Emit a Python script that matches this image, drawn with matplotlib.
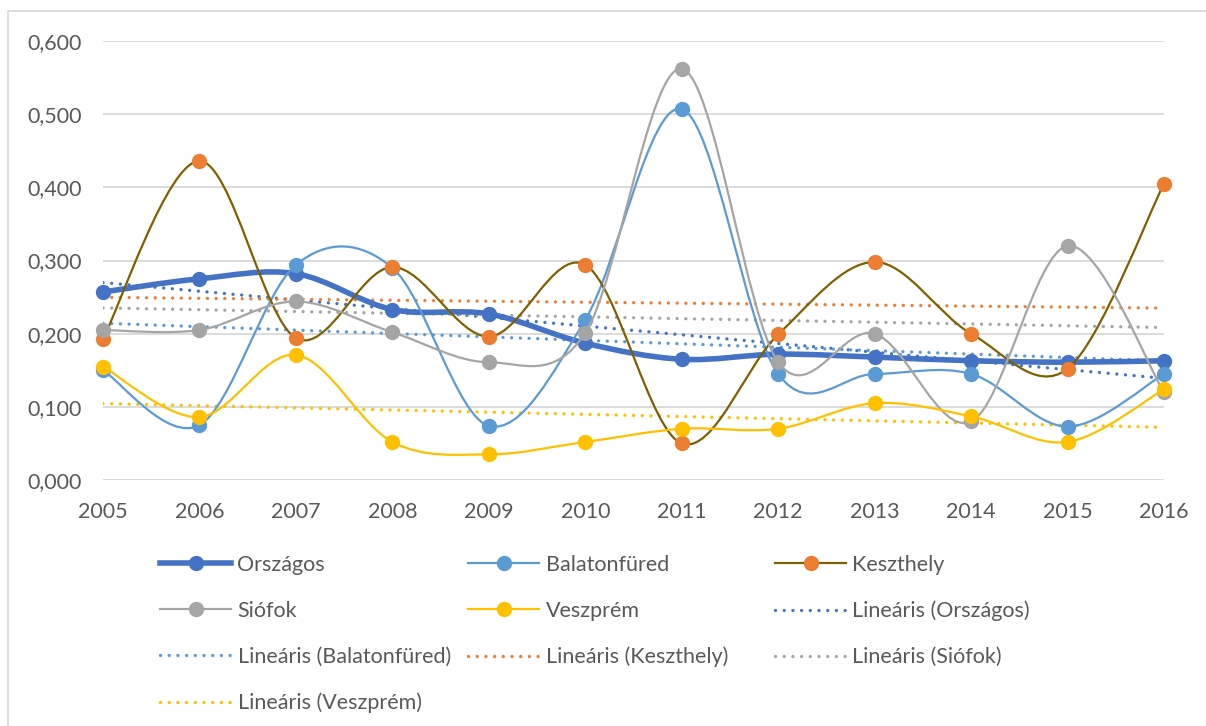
import numpy as np
import matplotlib
matplotlib.use("Agg")
import matplotlib.pyplot as plt
from matplotlib.path import Path
from matplotlib.patches import PathPatch, Rectangle
from matplotlib.lines import Line2D

plt.rcParams['font.family'] = ['Lato', 'DejaVu Sans']

years = [2005, 2006, 2007, 2008, 2009, 2010, 2011, 2012, 2013, 2014, 2015, 2016]

orszagos = [0.257, 0.275, 0.282, 0.233, 0.227, 0.187, 0.165, 0.172, 0.168, 0.163, 0.161, 0.163]
balatonfured = [0.150, 0.075, 0.294, 0.290, 0.074, 0.219, 0.507, 0.145, 0.145, 0.145, 0.073, 0.145]
keszthely = [0.193, 0.436, 0.194, 0.291, 0.196, 0.294, 0.050, 0.199, 0.298, 0.200, 0.152, 0.405]
siofok = [0.205, 0.205, 0.244, 0.202, 0.161, 0.201, 0.562, 0.161, 0.200, 0.080, 0.320, 0.120]
veszprem = [0.155, 0.086, 0.171, 0.052, 0.035, 0.052, 0.070, 0.070, 0.105, 0.087, 0.052, 0.124]

names = ["Országos", "Balatonfüred", "Keszthely", "Siófok", "Veszprém"]
values = [orszagos, balatonfured, keszthely, siofok, veszprem]
line_colors = ["#4472C4", "#5B9BD5", "#7F6000", "#A5A5A5", "#FFC000"]
marker_colors = ["#4472C4", "#5B9BD5", "#ED7D31", "#A5A5A5", "#FFC000"]
trend_colors = ["#4472C4", "#5B9BD5", "#ED7D31", "#A5A5A5", "#FFC000"]
widths = [4.0, 1.6, 1.6, 1.6, 1.6]

TXT = "#595959"
FS = 15.5


def smooth_path(x, y):
    # Excel-like smoothed line: Catmull-Rom segments as cubic Bezier curves
    x = np.asarray(x, float)
    y = np.asarray(y, float)
    pts = np.column_stack([x, y])
    n = len(pts)
    verts = [pts[0]]
    codes = [Path.MOVETO]
    for i in range(n - 1):
        p0 = pts[i - 1] if i > 0 else pts[i]
        p1 = pts[i]
        p2 = pts[i + 1]
        p3 = pts[i + 2] if i + 2 < n else pts[i + 1]
        c1 = p1 + (p2 - p0) / 6.0
        c2 = p2 - (p3 - p1) / 6.0
        verts += [c1, c2, p2]
        codes += [Path.CURVE4] * 3
    return Path(verts, codes)


fig = plt.figure(figsize=(12.06, 7.26), dpi=100)
ax = fig.add_axes([103 / 1206, 1 - 480 / 726, (1164 - 103) / 1206, (480 - 41) / 726])

# light frame round the chart
fig.patches.append(Rectangle((8 / 1206, -0.01), 1.02, 1 - 11 / 726 + 0.01, transform=fig.transFigure,
                             fill=False, edgecolor="#D9D9D9", linewidth=1.2))

ax.set_xlim(2005, 2016)
ax.set_ylim(0, 0.6)
ax.set_yticks(np.arange(0, 0.61, 0.1))
ax.set_yticklabels([f"{v:.3f}".replace(".", ",") for v in np.arange(0, 0.61, 0.1)])
ax.set_xticks(years)
ax.set_xticklabels([str(y) for y in years])
ax.tick_params(axis="both", length=0, labelsize=FS, labelcolor=TXT)
ax.tick_params(axis="y", pad=15)
ax.tick_params(axis="x", pad=16)
ax.grid(axis="y", color="#D9D9D9", linewidth=1.3)
ax.set_axisbelow(True)
for s in ax.spines.values():
    s.set_visible(False)

xs = np.array(years, float)
dot_style = (0, (0.01, 2.6))

# linear trendlines
trend_handles = []
for name, vals, col in zip(names, values, trend_colors):
    k, b = np.polyfit(xs, vals, 1)
    ax.plot(xs, k * xs + b, color=col, linewidth=2.4, linestyle=dot_style,
            dash_capstyle="round", zorder=2)
    trend_handles.append(Line2D([], [], color=col, linewidth=2.4, linestyle=dot_style,
                                dash_capstyle="round"))

# data series
series_handles = []
for i, (name, vals) in enumerate(zip(names, values)):
    patch = PathPatch(smooth_path(xs, vals), fill=False, edgecolor=line_colors[i],
                      linewidth=widths[i], capstyle="round", joinstyle="round", zorder=3 + i)
    ax.add_patch(patch)
    ax.plot(xs, vals, linestyle="none", marker="o", markersize=10,
            markerfacecolor=marker_colors[i], markeredgecolor=marker_colors[i],
            clip_on=False, zorder=3 + i)
    series_handles.append(Line2D([], [], color=line_colors[i], linewidth=widths[i], marker="o",
                                 markersize=10, markerfacecolor=marker_colors[i],
                                 markeredgecolor=marker_colors[i]))

handles = series_handles + trend_handles
labels = names + [f"Lineáris ({n})" for n in names]

# legend laid out row by row in three columns
col_x = [160, 468, 775]
for c in range(3):
    idx = list(range(c, len(handles), 3))
    fig.legend([handles[j] for j in idx], [labels[j] for j in idx],
               loc="upper left", bbox_to_anchor=(col_x[c] / 1206, 1 - 555 / 726),
               frameon=False, fontsize=FS, labelcolor=TXT, handlelength=3.3,
               handletextpad=0.3, labelspacing=1.2, borderpad=0, borderaxespad=0)

fig.savefig("out.png", dpi=100, facecolor="white")
